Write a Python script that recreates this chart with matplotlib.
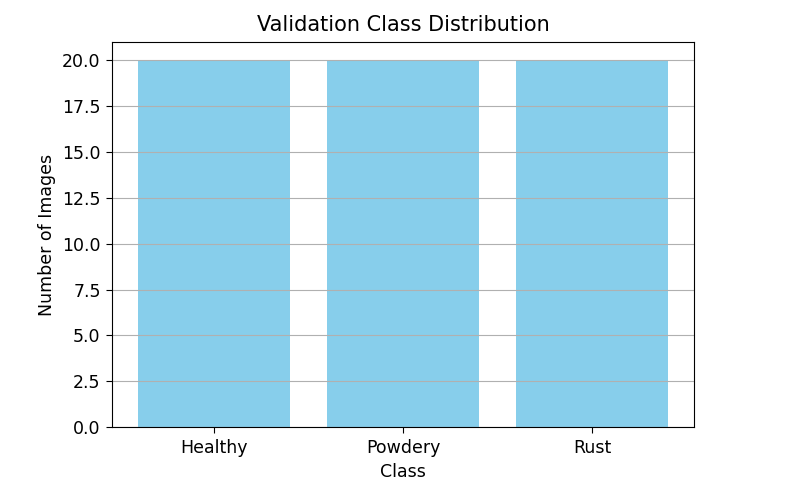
import matplotlib
matplotlib.use("Agg")
import matplotlib.pyplot as plt

# data
classes = ["Healthy", "Powdery", "Rust"]
counts = [20, 20, 20]

fig = plt.figure(figsize=(8.1, 4.95), dpi=100)
ax = fig.add_axes([0.138, 0.137, 0.719, 0.778])

ax.bar(classes, counts, color="skyblue")
ax.set_title("Validation Class Distribution", fontsize=15, pad=8)
ax.set_xlabel("Class", fontsize=12.5, labelpad=4)
ax.set_ylabel("Number of Images", fontsize=12.5, labelpad=4.5)
ax.tick_params(labelsize=12.5, length=4.5)
ax.tick_params(axis="x", pad=4)
ax.grid(axis="y")

fig.savefig("out.png", dpi=100)
